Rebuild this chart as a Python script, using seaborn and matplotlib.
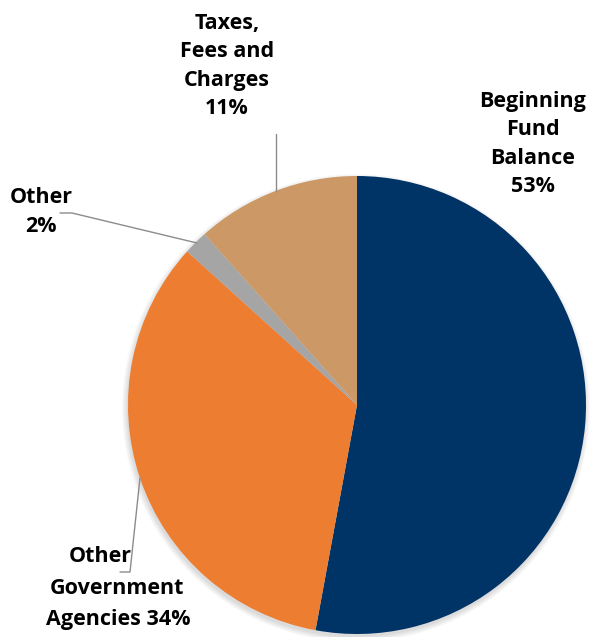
import matplotlib
matplotlib.use("Agg")
import matplotlib.pyplot as plt
from matplotlib.patches import Circle
import seaborn as sns

sns.set_theme(style="white")
plt.rcParams['font.family'] = ['Open Sans', 'DejaVu Sans']

categories = ["Beginning Fund Balance", "Other Government Agencies", "Other", "Taxes, Fees and Charges"]
values = [52.9, 33.8, 1.7, 11.6]
colors = ["#003366", "#ED7D31", "#A5A5A5", "#CC9966"]
label_texts = ["Beginning\nFund\nBalance\n53%", "Other\nGovernment\nAgencies 34%", "Other\n2%", "Taxes,\nFees and\nCharges\n11%"]

W, H = 591, 637
fig = plt.figure(figsize=(W / 100, H / 100), dpi=100)
ax = fig.add_axes([0, 0, 1, 1])

def py(y):
    return H - y

cx, cy, r = 357, py(405), 229

# soft shadow
for i in range(6):
    ax.add_patch(Circle((cx - 1, cy - 3), r + 5 - i, color="black", alpha=0.025, lw=0, zorder=0))

ax.pie(values, colors=colors, startangle=90, counterclock=False,
       center=(cx, cy), radius=r, frame=True,
       wedgeprops=dict(linewidth=0, zorder=2))
ax.set_xlim(0, W)
ax.set_ylim(0, H)
ax.set_aspect('equal')
ax.axis('off')

fs = 15.5
ls = 31.5 / (fs * 100 / 72)
kw = dict(fontsize=fs, fontweight='bold', color='black', ha='center', va='center',
          linespacing=ls, zorder=5)

ax.text(533, py(144), label_texts[0], **kw)
ax.text(41, py(212), label_texts[2], **kw)
ax.text(227, py(66), label_texts[3], **kw)
l1, l2, l3 = label_texts[1].split("\n")
ax.text(100, py(557), l1, **kw)
ax.text(117, py(588), l2, **kw)
ax.text(118, py(620), l3, **kw)

lc = "#8C8C8C"
ax.plot([60, 72, 197], [py(213), py(213), py(243)], color=lc, lw=1, zorder=4)
ax.plot([276, 276], [py(134), py(191)], color=lc, lw=1, zorder=4)
ax.plot([120, 130, 140], [py(572), py(572), py(478)], color=lc, lw=1, zorder=4)

fig.savefig("out.png", dpi=100)
